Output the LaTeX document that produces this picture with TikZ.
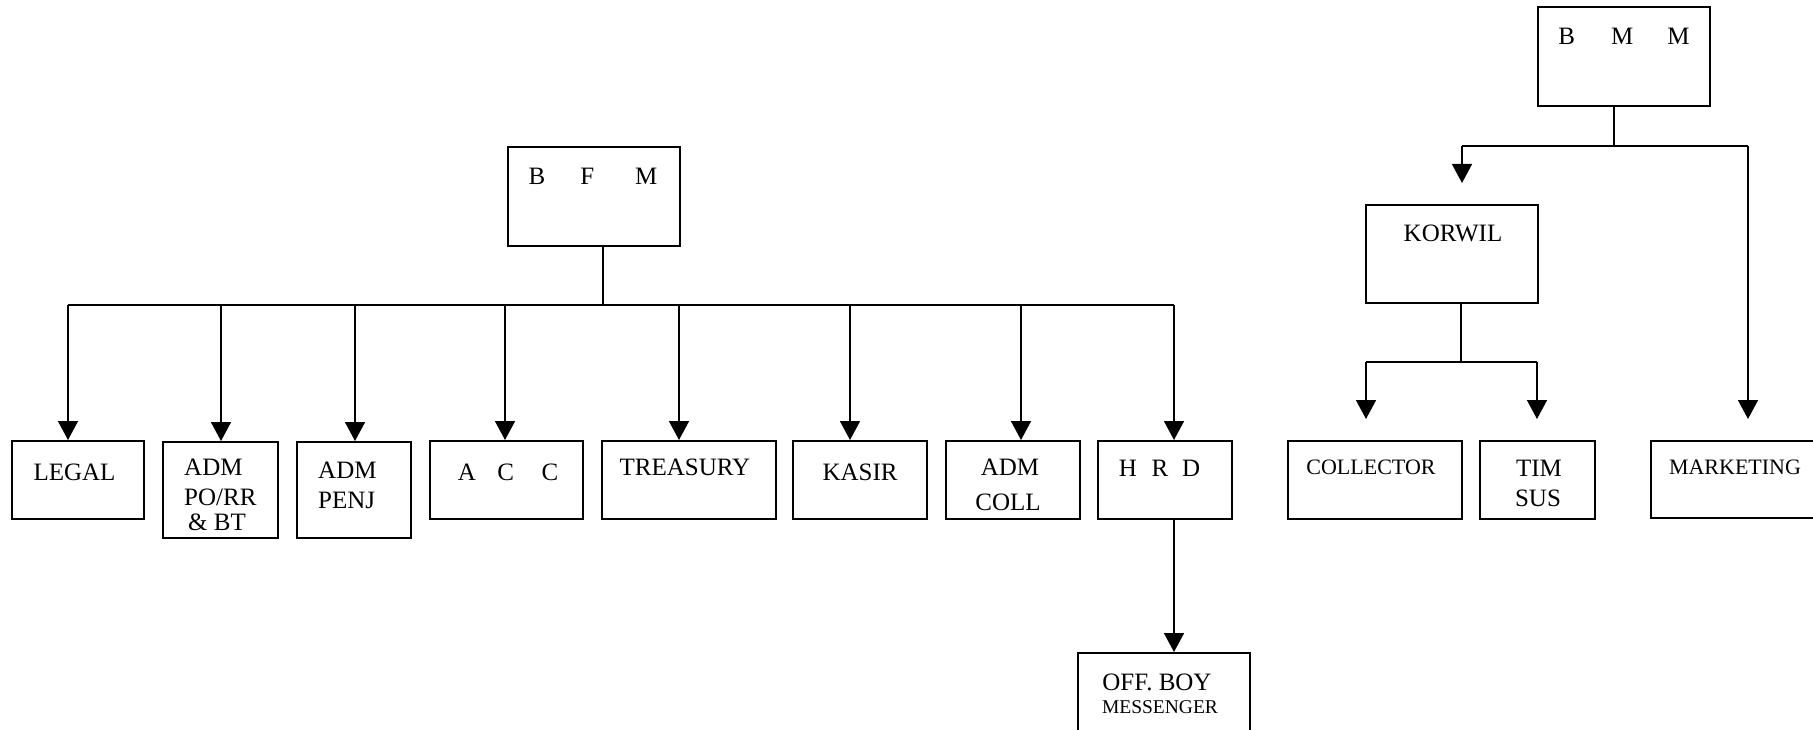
\documentclass[tikz,border=0pt]{standalone}
\usepackage{fontspec}
\setmainfont{Liberation Serif}
\usetikzlibrary{arrows.meta}
\tikzset{
  box/.style={draw=black, line width=2pt, inner sep=0pt, fill=none},
  lbl/.style={inner sep=0pt, anchor=base, font=\fontsize{25}{28}\selectfont},
  lblw/.style={inner sep=0pt, anchor=base west, font=\fontsize{25}{28}\selectfont},
  lblsm/.style={inner sep=0pt, anchor=base, font=\fontsize{22}{26}\selectfont},
  conn/.style={draw=black, line width=1.6pt},
  arr/.style={conn, -{Triangle[width=20pt,length=19pt]}},
}
\begin{document}
\begin{tikzpicture}[x=1pt, y=-1pt]
\useasboundingbox (0,0) rectangle (1813,730);
\clip (0,0) rectangle (1813,730);
\fill[white] (0,0) rectangle (1813,730);

% ---------- boxes ----------
\node[box, minimum width=172pt, minimum height=99pt] (bfm) at (594,196.5) {};
\node[box, minimum width=172pt, minimum height=99pt] (bmm) at (1624,56.5) {};
\node[box, minimum width=172pt, minimum height=98pt] (korwil) at (1452,254) {};
\node[box, minimum width=132pt, minimum height=78pt] (legal) at (78,480) {};
\node[box, minimum width=115pt, minimum height=96pt] (admpo) at (220.5,490) {};
\node[box, minimum width=114pt, minimum height=96pt] (admpenj) at (354,490) {};
\node[box, minimum width=153pt, minimum height=78pt] (acc) at (506.5,480) {};
\node[box, minimum width=174pt, minimum height=78pt] (treasury) at (689,480) {};
\node[box, minimum width=134pt, minimum height=78pt] (kasir) at (860,480) {};
\node[box, minimum width=134pt, minimum height=78pt] (admcoll) at (1013,480) {};
\node[box, minimum width=134pt, minimum height=78pt] (hrd) at (1165,480) {};
\node[box, minimum width=174pt, minimum height=78pt] (collector) at (1375,480) {};
\node[box, minimum width=115pt, minimum height=78pt] (timsus) at (1537.5,480) {};
\node[box, minimum width=189pt, minimum height=77pt] (marketing) at (1745.5,479.5) {};
\node[box, minimum width=172pt, minimum height=107pt] (offboy) at (1164,706.5) {};

% ---------- labels ----------
\node[lbl] (tbfm) at (593,185) {B\hspace{35pt}F\hspace{41pt}M};
\node[lbl] (tbmm) at (1624,45) {B\hspace{36pt}M\hspace{34pt}M};
\node[lbl] (tkorwil) at (1453,242) {KORWIL};
\node[lbl] (tlegal) at (74.5,480) {LEGAL};
\node[lblw] (tadmpoA) at (184,475) {ADM};
\node[lblw] (tadmpoB) at (184,505) {PO/RR};
\node[lblw] (tadmpoC) at (188,530) {\&\ BT};
\node[lblw] (tadmpenjA) at (318,478) {ADM};
\node[lblw] (tadmpenjB) at (318,508) {PENJ};
\node[lbl] (tacc) at (508,480) {A\hspace{21.7pt}C\hspace{27.4pt}C};
\node[lbl] (ttreasury) at (685,475) {TREASURY};
\node[lbl] (tkasir) at (860,480) {KASIR};
\node[lbl] (tadmcollA) at (1010,475) {ADM};
\node[lbl] (tadmcollB) at (1008,510) {COLL};
\node[lbl] (thrd) at (1159.5,476) {H\hspace{14.7pt}R\hspace{13.7pt}D};
\node[lblsm] (tcollector) at (1371,474) {COLLECTOR};
\node[lbl] (ttimsusA) at (1539,476) {TIM};
\node[lbl] (ttimsusB) at (1538,506) {SUS};
\node[lblsm] (tmarketing) at (1735,474) {MARKETING};
\node[lbl] (toffboyA) at (1157,690) {OFF. BOY};
\node[lbl, font=\fontsize{19.5}{22}\selectfont] (toffboyB) at (1160,713) {MESSENGER};

% ---------- left tree (B F M) ----------
\coordinate (bfmbus) at (603,305);
\coordinate (bLegal) at (68,305);
\coordinate (bAdmpo) at (221,305);
\coordinate (bAdmpenj) at (355,305);
\coordinate (bAcc) at (505,305);
\coordinate (bTreasury) at (679,305);
\coordinate (bKasir) at (850,305);
\coordinate (bAdmcoll) at (1021,305);
\coordinate (bHrd) at (1174,305);

\draw[conn] (bfmbus |- bfm.south) -- (bfmbus);
\draw[conn] (bLegal) -- (bHrd);
\draw[arr] (bLegal) -- (bLegal |- legal.north);
\draw[arr] (bAdmpo) -- (bAdmpo |- admpo.north);
\draw[arr] (bAdmpenj) -- (bAdmpenj |- admpenj.north);
\draw[arr] (bAcc) -- (bAcc |- acc.north);
\draw[arr] (bTreasury) -- (bTreasury |- treasury.north);
\draw[arr] (bKasir) -- (bKasir |- kasir.north);
\draw[arr] (bAdmcoll) -- (bAdmcoll |- admcoll.north);
\draw[arr] (bHrd) -- (bHrd |- hrd.north);
\draw[arr] (bHrd |- hrd.south) -- (bHrd |- offboy.north);

% ---------- right tree (B M M) ----------
\coordinate (bmmbus) at (1614,146);
\coordinate (bKorwil) at (1462,146);
\coordinate (bMarketing) at (1748,146);
\draw[conn] (bmmbus |- bmm.south) -- (bmmbus);
\draw[conn] (bKorwil) -- (bMarketing);
\draw[arr, shorten >=21pt] (bKorwil) -- (bKorwil |- korwil.north);
\draw[arr, shorten >=21pt] (bMarketing) -- (bMarketing |- marketing.north);

\coordinate (kbus) at (1461,362);
\coordinate (bCollector) at (1366,362);
\coordinate (bTimsus) at (1537,362);
\draw[conn] (kbus |- korwil.south) -- (kbus);
\draw[conn] (bCollector) -- (bTimsus);
\draw[arr, shorten >=21pt] (bCollector) -- (bCollector |- collector.north);
\draw[arr, shorten >=21pt] (bTimsus) -- (bTimsus |- timsus.north);
\end{tikzpicture}
\end{document}
